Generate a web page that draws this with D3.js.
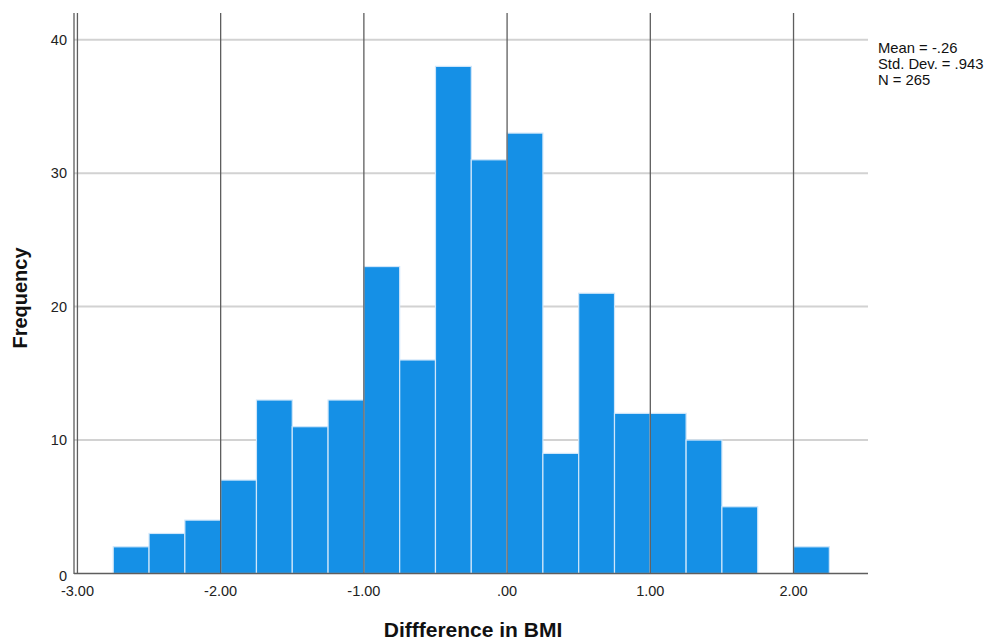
<!DOCTYPE html>
<html><head><meta charset="utf-8">
<script src="https://cdn.jsdelivr.net/npm/d3@7"></script>
<style>body{margin:0;background:#fff;}svg{display:block;font-family:"Liberation Sans",Arial,sans-serif;}</style>
</head><body>
<svg id="c" width="988" height="642"></svg>
<script>
const binStarts = [-2.75,-2.5,-2.25,-2.0,-1.75,-1.5,-1.25,-1.0,-0.75,-0.5,-0.25,0.0,0.25,0.5,0.75,1.0,1.25,1.5,1.75,2.0];
const counts    = [2,3,4,7,13,11,13,23,16,38,31,33,9,21,12,12,10,5,0,2];
const binWidth = 0.25;
const xTicks = [-3,-2,-1,0,1,2];
const xTickLabels = ["-3.00","-2.00","-1.00",".00","1.00","2.00"];
const yTicks = [0,10,20,30,40];
const statsLines = ["Mean = -.26","Std. Dev. = .943","N = 265"];
const xTitle = "Diffference in BMI";
const yTitle = "Frequency";

const svg = d3.select("#c");
const x = d3.scaleLinear().domain([-3.024, 2.52]).range([74, 868]);
const y = d3.scaleLinear().domain([0, 42]).range([573.5, 13]);

// horizontal gridlines
svg.append("g").selectAll("line").data(yTicks.filter(d=>d>0)).join("line")
  .attr("x1", 74).attr("x2", 868).attr("y1", d=>y(d)).attr("y2", d=>y(d))
  .attr("stroke", "#d2d2d2").attr("stroke-width", 2);

// bars
svg.append("g").selectAll("rect").data(binStarts.map((s,i)=>({s, c:counts[i]})).filter(d=>d.c>0)).join("rect")
  .attr("x", d=>x(d.s)).attr("width", d=>x(d.s+binWidth)-x(d.s))
  .attr("y", d=>y(d.c)).attr("height", d=>y(0)-y(d.c))
  .attr("fill", "#1590e6").attr("stroke", "#cfe6fa").attr("stroke-width", 1.2);

// vertical gridlines (over bars)
svg.append("g").selectAll("line").data(xTicks).join("line")
  .attr("x1", d=>x(d)).attr("x2", d=>x(d)).attr("y1", 13).attr("y2", 573.5)
  .attr("stroke", "#5e5e5e").attr("stroke-width", 1.3);

// axes lines
svg.append("line").attr("x1",74).attr("x2",74).attr("y1",13).attr("y2",574)
  .attr("stroke","#5e5e5e").attr("stroke-width",1.3);
svg.append("line").attr("x1",74).attr("x2",868).attr("y1",573.5).attr("y2",573.5)
  .attr("stroke","#5e5e5e").attr("stroke-width",1.5);

// y tick labels
svg.append("g").selectAll("text").data(yTicks).join("text")
  .attr("x", 67).attr("y", d=>y(d) + (d===0?2:0)).attr("dy","0.35em")
  .attr("text-anchor","end").attr("font-size",14.5).attr("fill","#222")
  .text(d=>d);

// x tick labels
svg.append("g").selectAll("text").data(xTicks).join("text")
  .attr("x", d=>x(d)).attr("y", 591).attr("dy","0.35em")
  .attr("text-anchor","middle").attr("font-size",14.5).attr("fill","#222")
  .text((d,i)=>xTickLabels[i]);

// titles
svg.append("text").attr("x", 473).attr("y", 637)
  .attr("text-anchor","middle").attr("font-size",21).attr("font-weight","bold").attr("fill","#111")
  .text(xTitle);
svg.append("text").attr("transform","translate(20,298) rotate(-90)").attr("dy","0.35em")
  .attr("text-anchor","middle").attr("font-size",20).attr("font-weight","bold").attr("fill","#111")
  .text(yTitle);

// stats
svg.append("g").selectAll("text").data(statsLines).join("text")
  .attr("x", 878).attr("y", (d,i)=>48 + i*16).attr("dy","0.35em")
  .attr("font-size",14.8).attr("fill","#111").text(d=>d);
</script>
</body></html>
